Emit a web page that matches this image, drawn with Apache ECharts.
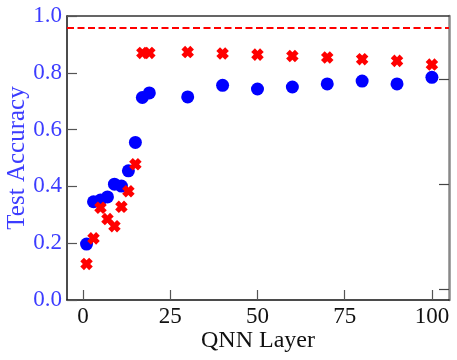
<!DOCTYPE html>
<html>
<head>
<meta charset="utf-8">
<script src="https://cdn.jsdelivr.net/npm/echarts@6/dist/echarts.min.js"></script>
<style>html,body{margin:0;padding:0;background:#fff}#c{width:457px;height:360px}</style>
</head>
<body>
<div id="c"></div>
<script>
// ---- data ----
const layers = [1, 3, 5, 7, 9, 11, 13, 15, 17, 19, 30, 40, 50, 60, 70, 80, 90, 100];
const blueAcc = [0.197, 0.346, 0.352, 0.363, 0.408, 0.401, 0.455, 0.555, 0.713, 0.729, 0.715, 0.756, 0.743, 0.750, 0.761, 0.771, 0.761, 0.784];
const redAcc  = [0.127, 0.217, 0.325, 0.285, 0.260, 0.328, 0.383, 0.478, 0.870, 0.870, 0.873, 0.868, 0.864, 0.859, 0.854, 0.848, 0.842, 0.829];
const refAcc = [0.964];
const xTicks = [0, 25, 50, 75, 100];
const yTicks = [0, 0.2, 0.4, 0.6, 0.8, 1.0];
const rightTicks = [0.039, 0.408, 0.777];

const font = 'Liberation Serif';
const blue = '#0000ff', red = '#ff0000', labelBlue = '#3c3cff';
const xPath = 'path://M-1.25,-3H1.25V-1.25H3V1.25H1.25V3H-1.25V1.25H-3V-1.25H-1.25Z';

const chart = echarts.init(document.getElementById('c'), null, {renderer: 'canvas'});
chart.setOption({
  backgroundColor: '#fff',
  animation: false,
  grid: {left: 67, right: 8, top: 16, bottom: 60, containLabel: false, outerBoundsMode: 'none'},
  xAxis: [{
    type: 'value', min: -4.6, max: 104.9, position: 'bottom',
    name: 'QNN Layer', nameLocation: 'middle', nameGap: 29, nameMoveOverlap: false,
    nameTextStyle: {fontFamily: font, fontSize: 24, color: '#111'},
    axisLine: {show: true, onZero: false, lineStyle: {color: '#111', width: 1.5}},
    axisTick: {show: true, inside: true, length: 10, customValues: xTicks, lineStyle: {color: '#555', width: 1.2}},
    axisLabel: {customValues: xTicks, fontFamily: font, fontSize: 23, color: '#111', margin: 5},
    splitLine: {show: false}
  }, {
    type: 'value', min: -4.6, max: 104.9, position: 'top',
    axisLine: {show: true, onZero: false, lineStyle: {color: '#333', width: 1.5}},
    axisTick: {show: false}, axisLabel: {show: false}, splitLine: {show: false}
  }],
  yAxis: [{
    type: 'value', min: 0, max: 1, position: 'left',
    name: 'Test Accuracy', nameLocation: 'middle', nameGap: 37, nameMoveOverlap: false,
    nameTextStyle: {fontFamily: font, fontSize: 25, color: labelBlue},
    axisLine: {show: true, onZero: false, lineStyle: {color: '#111', width: 1.5}},
    axisTick: {show: true, inside: true, length: 10, customValues: yTicks, lineStyle: {color: '#555', width: 1.2}},
    axisLabel: {customValues: yTicks, fontFamily: font, fontSize: 23, color: labelBlue, margin: 5,
      formatter: v => v.toFixed(1)},
    splitLine: {show: false}
  }, {
    type: 'value', min: 0, max: 1, position: 'right',
    axisLine: {show: true, onZero: false, lineStyle: {color: '#888', width: 2.5}},
    axisTick: {show: true, inside: true, length: 10, customValues: rightTicks, lineStyle: {color: '#444', width: 1.2}},
    axisLabel: {show: false}, splitLine: {show: false}
  }],
  series: [{
    type: 'scatter', xAxisIndex: 0, yAxisIndex: 0,
    data: layers.map((x, i) => [x, blueAcc[i]]),
    symbol: 'circle', symbolSize: 13,
    itemStyle: {color: blue, opacity: 1}
  }, {
    type: 'scatter', xAxisIndex: 0, yAxisIndex: 0,
    data: layers.map((x, i) => [x, redAcc[i]]),
    symbol: xPath, symbolSize: 12.5, symbolRotate: 45,
    itemStyle: {color: red, opacity: 1},
    markLine: {
      silent: true, symbol: ['none', 'none'], label: {show: false},
      lineStyle: {color: red, type: [7, 3.5], width: 2},
      data: refAcc.map(v => ({yAxis: v}))
    }
  }]
});
</script>
</body>
</html>
